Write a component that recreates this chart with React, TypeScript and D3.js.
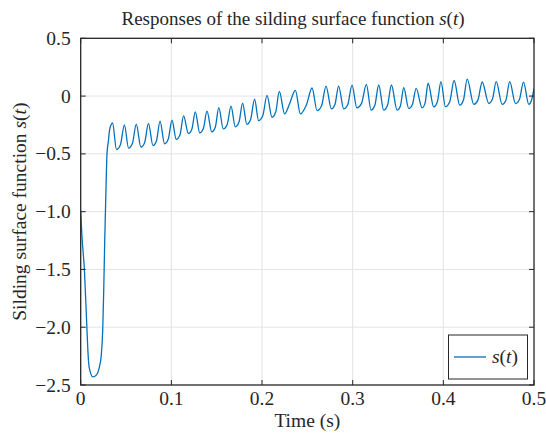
import React from 'react';
import * as d3 from 'd3';

const xTicks = [0, 0.1, 0.2, 0.3, 0.4, 0.5];
const xTickLabels = ['0', '0.1', '0.2', '0.3', '0.4', '0.5'];
const yTicks = [0.5, 0, -0.5, -1.0, -1.5, -2.0, -2.5];
const yTickLabels = ['0.5', '0', '\u22120.5', '\u22121.0', '\u22121.5', '\u22122.0', '\u22122.5'];

// initial transient of s(t)
const transientT = [0, 0.0013, 0.0042, 0.0068, 0.0079, 0.0094, 0.0135, 0.0171, 0.0207, 0.0226, 0.0243, 0.0254, 0.0265, 0.0276, 0.029, 0.0307, 0.0318];
const transientV = [-1.0, -1.2, -1.52, -2.0, -2.2, -2.35, -2.43, -2.415, -2.34, -2.25, -2.02, -1.68, -1.25, -0.9, -0.5, -0.38, -0.295];

// oscillation peaks
const peakT = [0.0351, 0.0482, 0.0613, 0.0747, 0.0875, 0.1007, 0.1135, 0.1264, 0.1393, 0.1523, 0.1658, 0.1786, 0.1918, 0.2055, 0.2191, 0.2368, 0.2552, 0.2706, 0.2845, 0.2993, 0.3151, 0.3287, 0.3427, 0.3563, 0.37, 0.3832, 0.3974, 0.4119, 0.4263, 0.4428, 0.4583, 0.4732, 0.4884];
const peakV = [-0.233, -0.249, -0.242, -0.236, -0.216, -0.209, -0.172, -0.137, -0.131, -0.1, -0.087, -0.061, -0.026, 0.006, 0.041, 0.05, 0.07, 0.087, 0.087, 0.094, 0.102, 0.096, 0.096, 0.072, 0.067, 0.111, 0.125, 0.135, 0.146, 0.122, 0.125, 0.125, 0.12];

// oscillation troughs
const troughT = [0.0395, 0.0528, 0.0664, 0.0797, 0.0925, 0.1054, 0.1187, 0.1313, 0.1446, 0.1573, 0.1705, 0.1832, 0.1962, 0.211, 0.2249, 0.2423, 0.2607, 0.2765, 0.2901, 0.3046, 0.3203, 0.3342, 0.349, 0.3618, 0.3766, 0.3894, 0.4023, 0.4181, 0.4336, 0.4501, 0.4649, 0.4796, 0.4943];
const troughV = [-0.462, -0.451, -0.442, -0.428, -0.413, -0.375, -0.323, -0.318, -0.31, -0.284, -0.266, -0.244, -0.212, -0.183, -0.154, -0.154, -0.125, -0.111, -0.111, -0.102, -0.122, -0.122, -0.122, -0.107, -0.102, -0.093, -0.093, -0.079, -0.072, -0.064, -0.072, -0.064, -0.072];

// shoulders on the rising edge
const shoulderT = [0.0439, 0.0571, 0.0706, 0.0836, 0.0966, 0.1095, 0.1226, 0.1353, 0.1485, 0.1616, 0.1746, 0.1875, 0.2009, 0.2151, 0.2302, 0.2488, 0.2657, 0.2805, 0.2947, 0.3099, 0.3245, 0.3385, 0.3527, 0.3659, 0.3799, 0.3934, 0.4071, 0.4222, 0.4382, 0.4542, 0.4691, 0.484];
const shoulderV = [-0.419, -0.409, -0.401, -0.386, -0.372, -0.334, -0.286, -0.281, -0.268, -0.245, -0.225, -0.2, -0.168, -0.138, -0.07, -0.08, -0.083, -0.071, -0.07, -0.061, -0.078, -0.078, -0.083, -0.072, -0.059, -0.049, -0.047, -0.034, -0.033, -0.026, -0.033, -0.027];

const endT = [0.4975, 0.5];
const endV = [-0.03, 0.065];

const W = 546, H = 436;
const L = 80.7, R = 534, T = 38.3, B = 385;
const serif = '"Liberation Serif", "Times New Roman", serif';
const axisColor = '#262626';
const gridColor = '#e3e3e3';
const lineColor = '#0072BD';

export default function App() {
  const x = d3.scaleLinear().domain([0, 0.5]).range([L, R]);
  const y = d3.scaleLinear().domain([-2.5, 0.5]).range([B, T]);

  const pts: [number, number][] = [];
  transientT.forEach((t, i) => pts.push([t, transientV[i]]));
  peakT.forEach((t, i) => {
    pts.push([t, peakV[i]]);
    pts.push([troughT[i], troughV[i]]);
    if (i < shoulderT.length) pts.push([shoulderT[i], shoulderV[i]]);
  });
  endT.forEach((t, i) => pts.push([t, endV[i]]));

  const line = d3.line<[number, number]>()
    .x(d => x(d[0]))
    .y(d => y(d[1]))
    .curve(d3.curveMonotoneX);

  const tickLen = 5;
  const fs = 19.5;
  return (
    <svg width={W} height={H} style={{ position: 'absolute', left: 0, top: 0, display: 'block', background: '#fff' }}>
      <rect x={0} y={0} width={W} height={H} fill="#fff" />
      <rect x={L} y={T} width={R - L} height={B - T} fill="#fff" />
      {xTicks.slice(1, -1).map(t => (
        <line key={'gx' + t} x1={x(t)} x2={x(t)} y1={T} y2={B} stroke={gridColor} strokeWidth={1} />
      ))}
      {yTicks.slice(1, -1).map(t => (
        <line key={'gy' + t} x1={L} x2={R} y1={y(t)} y2={y(t)} stroke={gridColor} strokeWidth={1} />
      ))}
      <defs>
        <clipPath id="plotclip">
          <rect x={L} y={T} width={R - L} height={B - T} />
        </clipPath>
      </defs>
      <path d={line(pts) || ''} fill="none" stroke={lineColor} strokeWidth={1.3} strokeLinejoin="round" clipPath="url(#plotclip)" />
      {xTicks.map(t => (
        <g key={'tx' + t}>
          <line x1={x(t)} x2={x(t)} y1={B} y2={B - tickLen} stroke={axisColor} strokeWidth={1} />
          <line x1={x(t)} x2={x(t)} y1={T} y2={T + tickLen} stroke={axisColor} strokeWidth={1} />
        </g>
      ))}
      {yTicks.map(t => (
        <g key={'ty' + t}>
          <line x1={L} x2={L + tickLen} y1={y(t)} y2={y(t)} stroke={axisColor} strokeWidth={1} />
          <line x1={R} x2={R - tickLen} y1={y(t)} y2={y(t)} stroke={axisColor} strokeWidth={1} />
        </g>
      ))}
      <rect x={L} y={T} width={R - L} height={B - T} fill="none" stroke={axisColor} strokeWidth={1.3} />
      {xTicks.map((t, i) => (
        <text key={'lx' + t} x={x(t)} y={B + 20} textAnchor="middle" fontFamily={serif} fontSize={fs} fill={axisColor}>
          {xTickLabels[i]}
        </text>
      ))}
      {yTicks.map((t, i) => (
        <text key={'ly' + t} x={L - 10} y={y(t) + 6.5} textAnchor="end" fontFamily={serif} fontSize={fs} fill={axisColor}>
          {yTickLabels[i]}
        </text>
      ))}
      <text x={(L + R) / 2} y={427} textAnchor="middle" fontFamily={serif} fontSize={fs} fill={axisColor}>Time (s)</text>
      <text transform={`translate(26, ${(T + B) / 2}) rotate(-90)`} textAnchor="middle" fontFamily={serif} fontSize={fs} fill={axisColor}>
        Silding surface function <tspan fontStyle="italic">s</tspan>(<tspan fontStyle="italic">t</tspan>)
      </text>
      <text x={293} y={25} textAnchor="middle" fontFamily={serif} fontSize={19} fill={axisColor}>
        Responses of the silding surface function <tspan fontStyle="italic">s</tspan>(<tspan fontStyle="italic">t</tspan>)
      </text>
      <rect x={448.5} y={335} width={79} height={44} fill="#fff" stroke={axisColor} strokeWidth={1} />
      <line x1={454} x2={486} y1={357} y2={357} stroke={lineColor} strokeWidth={1.3} />
      <text x={492} y={363} fontFamily={serif} fontSize={fs} fill={axisColor}>
        <tspan fontStyle="italic">s</tspan>(<tspan fontStyle="italic">t</tspan>)
      </text>
    </svg>
  );
}
